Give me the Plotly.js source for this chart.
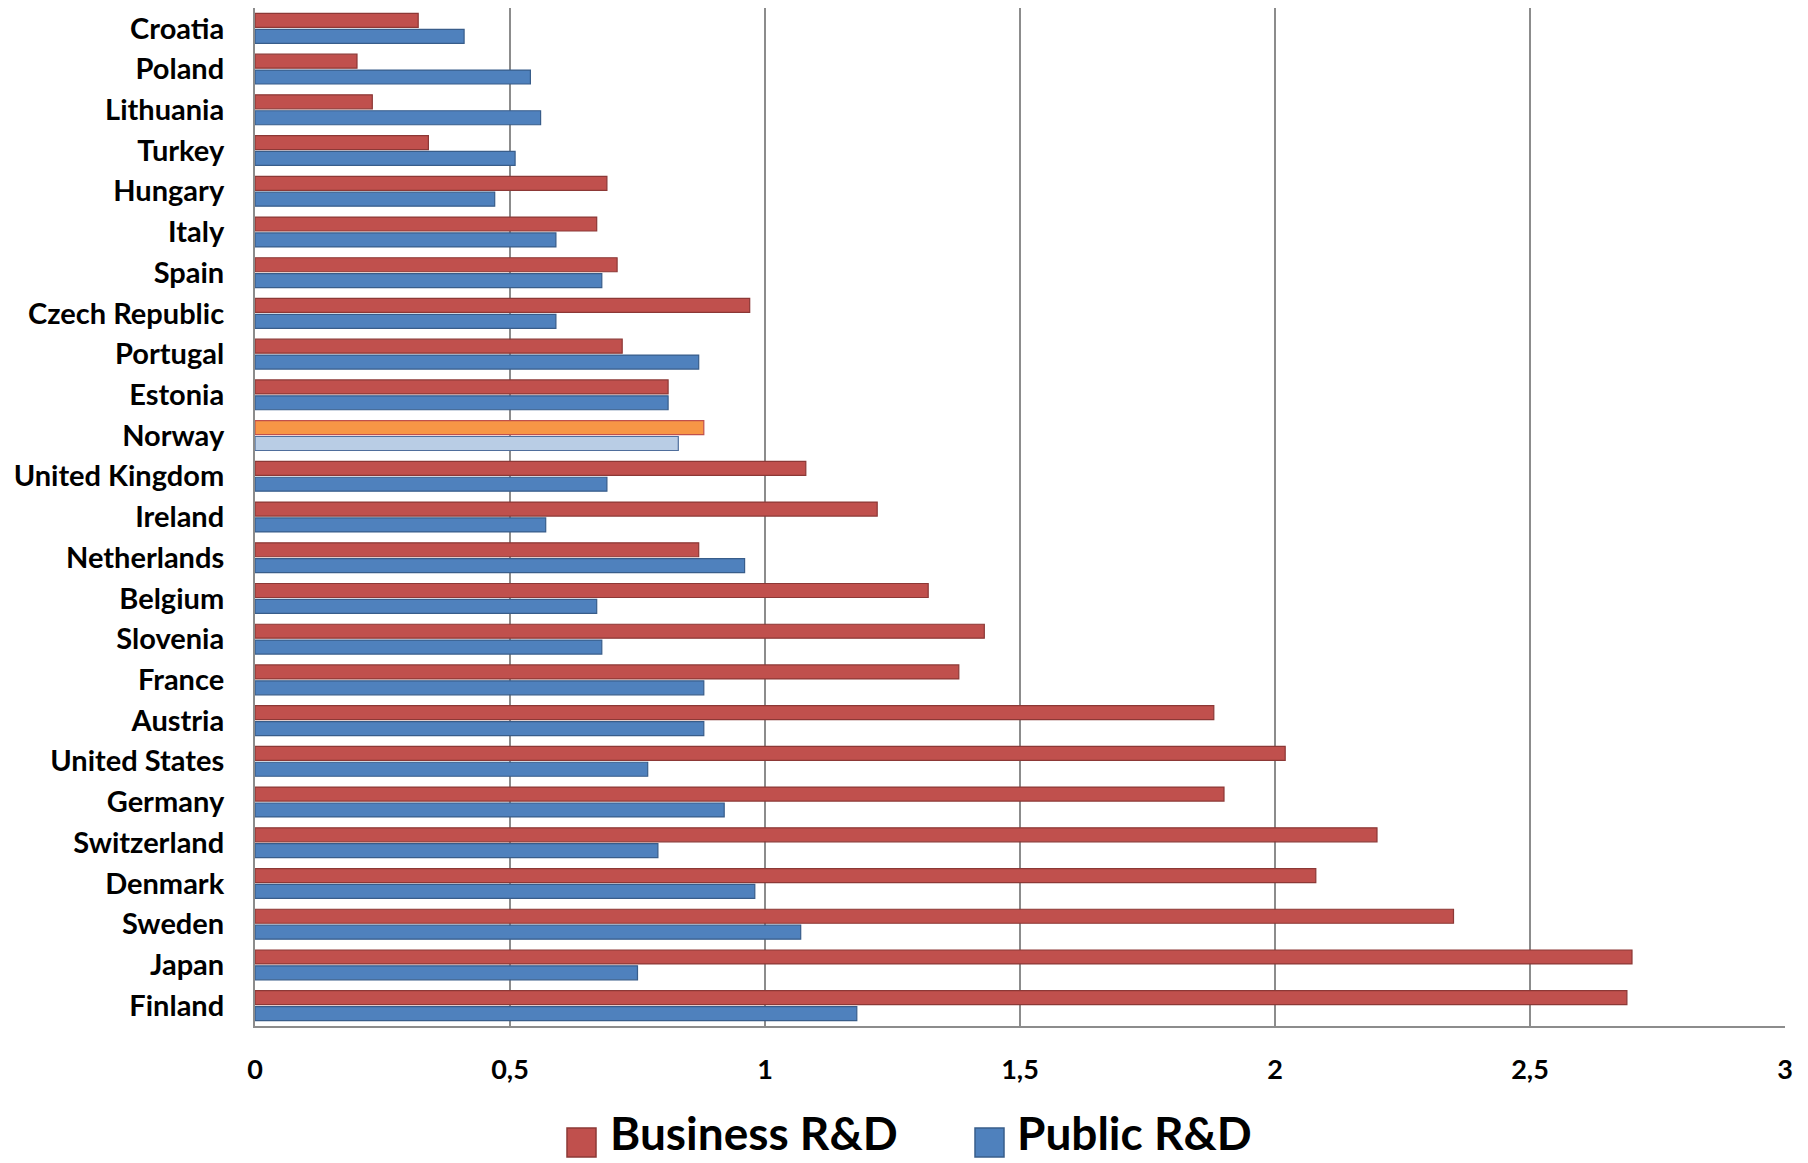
<!DOCTYPE html>
<html>
<head>
<meta charset="utf-8">
<script src="https://cdn.plot.ly/plotly-3.0.1.min.js"></script>
<style>
  html, body { margin: 0; padding: 0; background: #ffffff; }
  #chart { width: 1808px; height: 1163px; }
</style>
</head>
<body>
<div id="chart"></div>
<script>
// R&D expenditure as share of GDP, by country
const countries = [
  "Croatia", "Poland", "Lithuania", "Turkey", "Hungary", "Italy", "Spain",
  "Czech Republic", "Portugal", "Estonia", "Norway", "United Kingdom", "Ireland",
  "Netherlands", "Belgium", "Slovenia", "France", "Austria", "United States",
  "Germany", "Switzerland", "Denmark", "Sweden", "Japan", "Finland"
];
const businessRD = [
  0.32, 0.20, 0.23, 0.34, 0.69, 0.67, 0.71,
  0.97, 0.72, 0.81, 0.88, 1.08, 1.22,
  0.87, 1.32, 1.43, 1.38, 1.88, 2.02,
  1.90, 2.20, 2.08, 2.35, 2.70, 2.69
];
const publicRD = [
  0.41, 0.54, 0.56, 0.51, 0.47, 0.59, 0.68,
  0.59, 0.87, 0.81, 0.83, 0.69, 0.57,
  0.96, 0.67, 0.68, 0.88, 0.88, 0.77,
  0.92, 0.79, 0.98, 1.07, 0.75, 1.18
];
const seriesNames = ["Business R&D", "Public R&D"];
const xTicks = [0, 0.5, 1, 1.5, 2, 2.5, 3];
const highlighted = "Norway";

const FONT = "Lato, 'Open Sans', 'Liberation Sans', sans-serif";

const redFill = "#C0504D", redLine = "#8C3836";
const blueFill = "#4F81BD", blueLine = "#385D8A";
const orangeFill = "#F79646", orangeLine = "#C0504D";
const paleFill = "#B9CDE5", paleLine = "#4F6E9C";

const pick = (hi, normal) => countries.map(c => c === highlighted ? hi : normal);

const traces = [
  {
    type: "bar", orientation: "h", name: seriesNames[0],
    y: countries, x: businessRD,
    marker: { color: pick(orangeFill, redFill), line: { color: pick(orangeLine, redLine), width: 1.2 } },
    hoverinfo: "x+y"
  },
  {
    type: "bar", orientation: "h", name: seriesNames[1],
    y: countries, x: publicRD,
    marker: { color: pick(paleFill, blueFill), line: { color: pick(paleLine, blueLine), width: 1.2 } },
    hoverinfo: "x+y"
  }
];

// Plot area spans x 255..1785 px and y 8..1026 px; legend is drawn below it
const L = 255, R = 1808 - 1785, T = 8, B = 1163 - 1026;
const plotW = 1808 - L - R, plotH = 1163 - T - B;
const px = v => (v - L) / plotW;
const py = v => (1026 - v) / plotH;

const legendItems = [
  { name: seriesNames[0], fill: redFill, line: redLine, sq: 567, text: 608 },
  { name: seriesNames[1], fill: blueFill, line: blueLine, sq: 975, text: 1015 }
];
const shapes = [], annotations = [];
legendItems.forEach(it => {
  shapes.push({
    type: "rect", xref: "paper", yref: "paper",
    x0: px(it.sq), x1: px(it.sq + 29), y0: py(1157), y1: py(1128),
    fillcolor: it.fill, line: { color: it.line, width: 1.5 }
  });
  annotations.push({
    xref: "paper", yref: "paper", x: px(it.text), y: py(1132),
    xanchor: "left", yanchor: "middle", showarrow: false,
    text: it.name,
    font: { family: FONT, size: 46, color: "#000000", weight: "bold" }
  });
});

const layout = {
  width: 1808, height: 1163,
  margin: { l: L, r: R, t: T, b: B, pad: 0 },
  paper_bgcolor: "#ffffff", plot_bgcolor: "#ffffff",
  separators: ", ",
  barmode: "group", bargap: 0.22, bargroupgap: 0.12,
  showlegend: false,
  xaxis: {
    range: [0, 3], tickvals: xTicks, tickformat: ".1~f",
    showgrid: true, gridcolor: "#8c8c8c", gridwidth: 1.5,
    zeroline: false,
    showline: true, linecolor: "#8c8c8c", linewidth: 2, mirror: false,
    ticks: "", ticklabelstandoff: 19,
    tickfont: { family: FONT, size: 27, color: "#000000", weight: "bold" },
    fixedrange: true
  },
  yaxis: {
    type: "category", autorange: "reversed",
    showgrid: false, zeroline: false,
    showline: true, linecolor: "#8c8c8c", linewidth: 2,
    ticks: "", ticklabelstandoff: 23,
    tickfont: { family: FONT, size: 29, color: "#000000", weight: "bold" },
    fixedrange: true
  },
  shapes: shapes,
  annotations: annotations,
  font: { family: FONT, color: "#000000" }
};

Plotly.newPlot("chart", traces, layout, { displayModeBar: false, responsive: false, staticPlot: true });
</script>
</body>
</html>
